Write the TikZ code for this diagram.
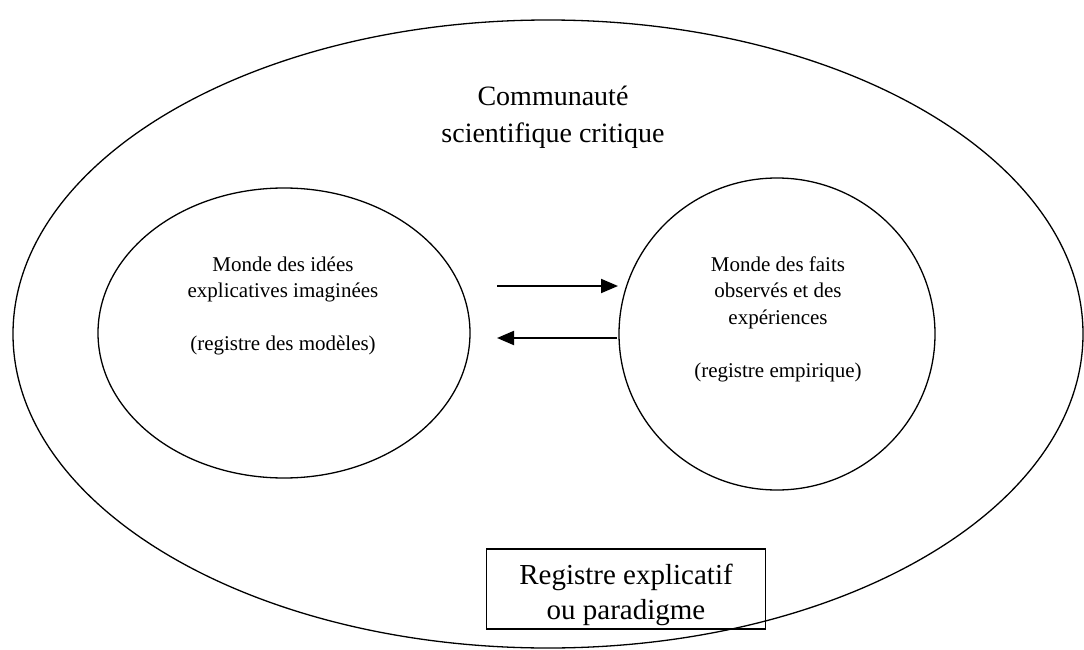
\documentclass[tikz,border=0pt]{standalone}
\usepackage{fontspec}
\setmainfont{Liberation Serif}
\usetikzlibrary{arrows.meta,shapes,positioning}

\begin{document}
\begin{tikzpicture}[x=1pt,y=1pt]
                \tikzstyle{every node}+=[inner sep=0pt]
                \tikzstyle{monde}=[draw=black, line width=1.3pt, ellipse]
                \tikzstyle{grand}=[align=center, font=\fontsize{28}{37}\selectfont]
                \tikzstyle{petit}=[align=center, font=\fontsize{21}{26.5}\selectfont]
                \tikzstyle{fleche}=[black, line width=2pt, -{Triangle[length=17pt,width=14pt]}]
                \useasboundingbox (0,0) rectangle (1084,-650);
                \node [monde, minimum width=1070, minimum height=628] (communaute) at (548,-334) {};
                \node [grand] (titre) at (553,-117) {Communaut\'e\\scientifique critique};
                \node [monde, minimum width=372, minimum height=290] (modeles) at (284,-333) {};
                \node [petit] (texteModeles) at (283,-306) {Monde des id\'ees\\explicatives imagin\'ees\\[26.5pt](registre des mod\`eles)};
                \node [monde, minimum width=316, minimum height=312] (faits) at (777,-334) {};
                \node [petit] (texteFaits) at (778,-319) {Monde des faits\\observ\'es et des\\exp\'eriences\\[26.5pt](registre empirique)};
                \node [draw=black, line width=1.3pt, minimum width=279, minimum height=80] (paradigme) at (626,-589) {};
                \node [grand, font=\fontsize{29}{35}\selectfont] (texteParadigme) at (626,-595) {Registre explicatif\\ou paradigme};
                \coordinate (allerA) at (497,-286);
                \coordinate (allerB) at (618,-286);
                \coordinate (retourA) at (617,-338);
                \coordinate (retourB) at (497,-338);
                \draw [fleche] (allerA) -- (allerB);
                \draw [fleche] (retourA) -- (retourB);
\end{tikzpicture}
\end{document}
